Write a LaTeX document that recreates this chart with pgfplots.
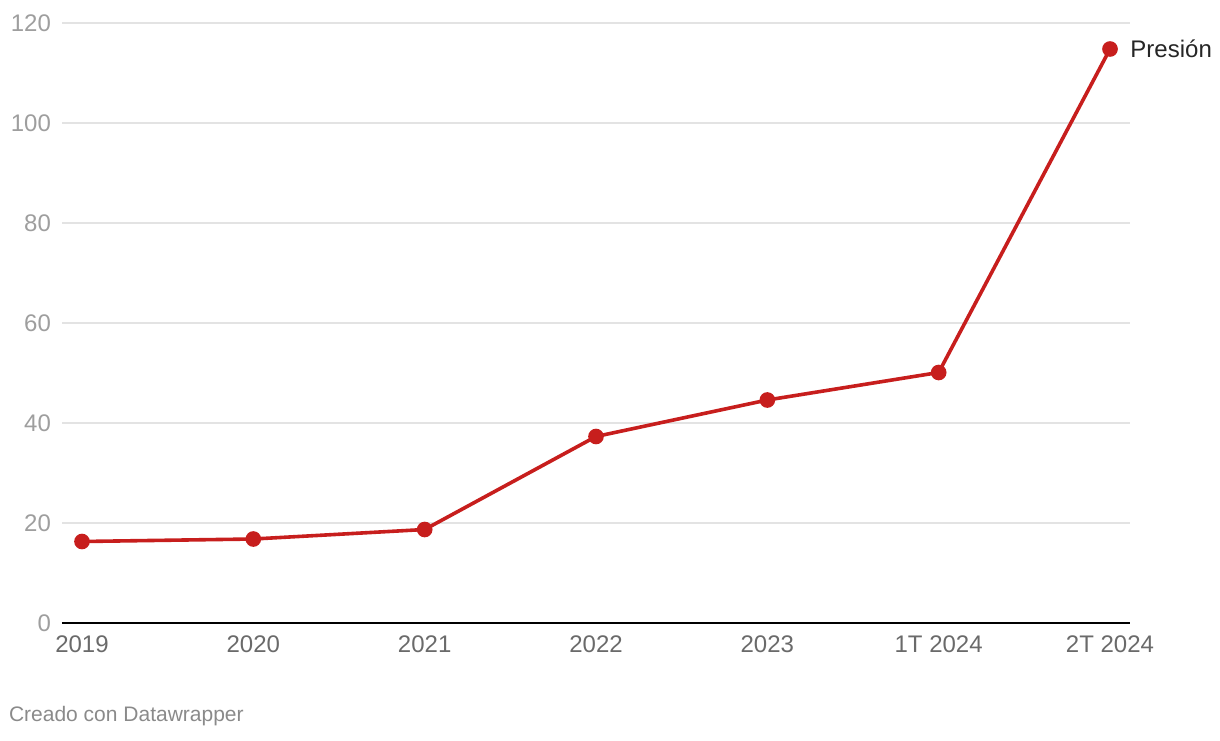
\documentclass[border=0pt]{standalone}
\usepackage{pgfplots}
\pgfplotsset{compat=1.18}
\usepackage{fontspec}
\setmainfont{Liberation Sans}
\definecolor{linered}{HTML}{C71E1D}
\definecolor{gridgray}{HTML}{E3E3E3}
\definecolor{ylab}{HTML}{9E9E9E}
\definecolor{xlab}{HTML}{6A6A6A}
\definecolor{foot}{HTML}{8A8A8A}
\begin{document}
\begin{tikzpicture}
\path[use as bounding box] (-31pt,-58.5pt) rectangle (579pt,311.5pt);
\begin{axis}[
  scale only axis,
  width=534pt, height=300pt,
  at={(0,0)}, anchor=south west,
  xmin=-0.1167, xmax=6.1167,
  ymin=0, ymax=120,
  xtick={0,...,6},
  xticklabels={2019,2020,2021,2022,2023,1T 2024,2T 2024},
  ytick={0,20,...,120},
  ymajorgrids, grid style={gridgray, line width=0.75pt},
  axis line style={draw=none},
  major tick length=0pt,
  tick style={draw=none},
  /pgf/number format/assume math mode=true,
  yticklabel style={font=\fontsize{12}{14}\selectfont, text=ylab, anchor=east, xshift=-2pt},
  xticklabel style={font=\fontsize{12}{14}\selectfont, text=xlab, yshift=-3pt},
  clip=false,
]
\addplot[linered, line width=1.8pt, mark=*, mark size=3pt, mark options={fill=linered, draw=linered}]
  coordinates {(0,16.3) (1,16.8) (2,18.7) (3,37.3) (4,44.6) (5,50.1) (6,114.8)}
  node[pos=1, anchor=west, xshift=6pt, font=\fontsize{12}{14}\selectfont, text=black!85] {Presión};
\draw[black, line width=1pt] (axis cs:-0.1167,0) -- (axis cs:6.1167,0);
\end{axis}
\node[anchor=west, font=\fontsize{10.5}{12}\selectfont, text=foot] at (-30pt,-46.5pt) {Creado con Datawrapper};
\end{tikzpicture}
\end{document}
